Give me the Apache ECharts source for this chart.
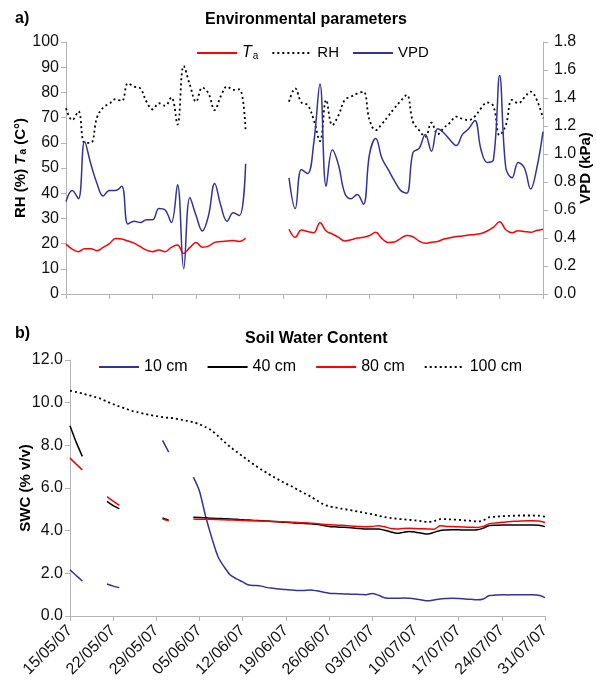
<!DOCTYPE html>
<html>
<head>
<meta charset="utf-8">
<script src="https://cdn.jsdelivr.net/npm/echarts@6/dist/echarts.min.js"></script>
<style>
html,body{margin:0;padding:0;background:#fff;}
#chart{width:596px;height:685px;}
</style>
</head>
<body>
<div id="chart"></div>
<script>
// x positions are days since 15/05/07
var tickLabels = ['15/05/07','22/05/07','29/05/07','05/06/07','12/06/07','19/06/07','26/06/07','03/07/07','10/07/07','17/07/07','24/07/07','31/07/07'];

// Panel a) daily values, days 0..77 (null = missing)
var taValues = [19.8,17.8,16.8,18,18,17.2,18.5,20,22,21.8,21,20.2,18.8,17.4,16.8,17.5,16.8,18.5,19.4,16.1,18.5,20.4,18.6,19,20.5,20.8,21,21.2,20.8,22.1,
  null,null,null,null,null,null,
  25.7,22.5,25.4,24.8,24.3,28.3,25,23.8,22.5,21,21.5,22.2,22.5,23.2,24.5,22,20.4,20.6,22,23.2,22.7,21,20.1,20.5,20.8,21.8,22.3,22.8,23,23.4,23.6,24,25,26.5,28.7,25.5,24.3,25.1,24.8,24.5,25.2,25.7];
var rhValues = [73.7,69,72.5,60,60,70,74,75.5,77.3,76.6,83.6,82.3,81.6,76.3,73.3,75.7,74.7,78,67.3,90.5,83,76.3,81.9,79.6,73,78.5,82.3,81,81.2,64.4,
  null,null,null,null,null,null,
  76.3,81.6,76,75,69,60.7,77,67,71,77,78.3,79.5,80.3,69,65,67.5,70.5,73.7,76.5,79,68.4,65,62.4,68,63.4,66,68,70.4,69.5,69,70.5,73.7,76,74.5,63,67,77,75.7,78,80.3,77,69.7];
var vpdValues = [0.66,0.74,0.68,1.09,0.93,0.79,0.70,0.74,0.74,0.77,0.50,0.52,0.51,0.53,0.53,0.61,0.60,0.51,0.78,0.18,0.69,0.56,0.45,0.56,0.79,0.63,0.52,0.58,0.56,0.93,
  null,null,null,null,null,null,
  0.83,0.61,0.89,0.86,1.08,1.50,0.77,1.03,0.92,0.72,0.68,0.71,0.64,1.00,1.11,0.97,0.89,0.81,0.74,0.72,1.01,1.04,1.14,1.02,1.18,1.15,1.10,1.06,1.14,1.18,1.24,1.03,0.94,0.96,1.56,0.90,0.83,0.94,0.90,0.75,0.90,1.16];

// Panel b) soil water content, days 0..77
var swc10 = [2.16,1.9,1.64,null,null,null,1.5,1.4,1.33,null,null,null,null,null,null,8.23,7.68,null,null,null,
  6.51,5.84,4.65,3.65,2.78,2.3,1.92,1.74,1.6,1.45,1.43,1.4,1.33,1.3,1.26,1.24,1.22,1.19,1.2,1.22,1.18,1.12,1.07,1.05,1.04,1.03,1.02,1.01,1.0,1.06,0.97,0.86,0.83,0.83,0.84,0.83,0.8,0.75,0.71,0.75,0.8,0.82,0.83,0.82,0.8,0.78,0.76,0.8,0.96,0.98,1.0,0.99,1.0,1.0,1.0,1.0,0.97,0.86];
var swc40 = [8.92,8.15,7.48,null,null,null,5.37,5.17,5.02,null,null,null,null,null,null,4.59,4.49,null,null,null,
  4.63,4.62,4.6,4.58,4.57,4.56,4.55,4.53,4.51,4.5,4.48,4.47,4.45,4.43,4.41,4.39,4.37,4.35,4.34,4.32,4.3,4.25,4.2,4.18,4.16,4.15,4.12,4.1,4.08,4.08,4.08,4.02,3.94,3.88,3.92,3.96,3.93,3.88,3.84,3.92,4.01,4.03,4.04,4.04,4.03,4.03,4.04,4.12,4.24,4.25,4.26,4.27,4.27,4.27,4.27,4.27,4.25,4.19];
var swc80 = [7.4,7.12,6.85,null,null,null,5.6,5.38,5.18,null,null,null,null,null,null,4.55,4.46,null,null,null,
  4.55,4.54,4.54,4.53,4.52,4.51,4.5,4.49,4.48,4.47,4.46,4.45,4.44,4.43,4.42,4.41,4.4,4.38,4.37,4.35,4.33,4.3,4.28,4.26,4.25,4.23,4.21,4.19,4.18,4.2,4.23,4.18,4.1,4.08,4.1,4.11,4.1,4.09,4.08,4.07,4.23,4.2,4.19,4.18,4.17,4.16,4.15,4.2,4.33,4.36,4.39,4.42,4.44,4.45,4.46,4.46,4.45,4.38];
var swc100 = [10.56,10.5,10.43,10.35,10.27,10.18,10.05,9.93,9.82,9.72,9.62,9.55,9.48,9.42,9.37,9.32,9.29,9.26,9.2,9.15,9.08,8.98,8.85,8.69,8.43,8.17,7.92,7.7,7.48,7.27,7.06,6.87,6.69,6.52,6.36,6.2,6.07,5.9,5.75,5.6,5.42,5.25,5.14,5.09,5.03,4.99,4.93,4.88,4.82,4.77,4.7,4.64,4.59,4.56,4.53,4.51,4.48,4.45,4.41,4.45,4.54,4.54,4.52,4.51,4.48,4.46,4.43,4.48,4.63,4.65,4.68,4.69,4.7,4.71,4.71,4.71,4.7,4.66];

function pairs(arr){ return arr.map(function(v,i){ return [i, v]; }); }

var FONT = '"Liberation Sans", Arial, sans-serif';
var AXC = '#b4b4b4';
var BLUE = '#333399', RED = '#ff0000', BLACK = '#000000';
var DOT = [2,3];

function xAxisCfg(grid, showLabels){
  return {
    type:'value', gridIndex:grid, min:0, max:77, interval:7,
    axisLine:{show:true, onZero:false, lineStyle:{color:AXC, width:1}},
    axisTick:{show:true, length:5, lineStyle:{color:AXC}},
    splitLine:{show:false},
    axisLabel:{show:showLabels, rotate:45, margin:12, fontSize:16, fontFamily:FONT, color:'#111',
      formatter:function(v){ return tickLabels[Math.round(v/7)]; }}
  };
}

var richName = {
  i:{fontStyle:'italic', fontWeight:'bold', fontSize:15, fontFamily:FONT, color:'#000'},
  s:{fontWeight:'bold', fontSize:10, fontFamily:FONT, color:'#000', verticalAlign:'bottom', padding:[0,0,0,1]},
  n:{fontWeight:'bold', fontSize:15, fontFamily:FONT, color:'#000'}
};

function lineSeries(name, xi, yi, arr, color, dotted, smooth){
  return {name:name, type:'line', xAxisIndex:xi, yAxisIndex:yi, data:pairs(arr), smooth:smooth,
    showSymbol:false, symbol:'none', connectNulls:false,
    lineStyle:{color:color, width:dotted ? 1.8 : 1.5, type: dotted ? DOT : 'solid'},
    itemStyle:{color:color}};
}

var chart = echarts.init(document.getElementById('chart'), null, {renderer:'canvas'});
chart.setOption({
  animation:false,
  backgroundColor:'#fff',
  title:[
    {text:'a)', left:10, top:6, textStyle:{fontSize:16, fontWeight:'bold', fontFamily:FONT, color:'#000'}},
    {text:'Environmental parameters', left:200, top:7, textStyle:{fontSize:16, fontWeight:'bold', fontFamily:FONT, color:'#000'}},
    {text:'b)', left:10, top:321, textStyle:{fontSize:16, fontWeight:'bold', fontFamily:FONT, color:'#000'}},
    {text:'Soil Water Content', left:240, top:326, textStyle:{fontSize:16, fontWeight:'bold', fontFamily:FONT, color:'#000'}}
  ],
  legend:[
    {data:['Ta','RH','VPD'], left:191, top:40, itemWidth:40, itemHeight:14, itemGap:13,
      itemStyle:{opacity:0},
      textStyle:{fontSize:15, fontFamily:FONT, color:'#000',
        rich:{i:{fontStyle:'italic', fontSize:16, fontFamily:FONT, color:'#000'}, s:{fontSize:10, fontFamily:FONT, color:'#000', verticalAlign:'bottom', padding:[6,0,0,1]}}},
      formatter:function(n){ return n==='Ta' ? '{i|T}{s|a}' : n; }},
    {data:['10 cm','40 cm','80 cm','100 cm'], left:93, top:354, itemWidth:40, itemHeight:14, itemGap:19,
      itemStyle:{opacity:0},
      textStyle:{fontSize:16, fontFamily:FONT, color:'#000'}}
  ],
  grid:[
    {left:66, right:53, top:42, bottom:391, containLabel:false, outerBoundsMode:'none'},
    {left:70, right:51, top:360, bottom:69, containLabel:false, outerBoundsMode:'none'}
  ],
  xAxis:[ xAxisCfg(0,false), xAxisCfg(1,true) ],
  yAxis:[
    {type:'value', gridIndex:0, min:0, max:100, interval:10, position:'left',
      name:'{n|RH (%) }{i|T}{s|a}{n| (C°)}', nameLocation:'middle', nameRotate:90, nameGap:38, nameMoveOverlap:false,
      nameTextStyle:{rich:richName},
      axisLine:{show:true, lineStyle:{color:AXC}}, axisTick:{show:true, length:5, lineStyle:{color:AXC}},
      splitLine:{show:false},
      axisLabel:{fontSize:16, fontFamily:FONT, color:'#111', margin:7}},
    {type:'value', gridIndex:0, min:0, max:1.8, interval:0.2, position:'right',
      name:'VPD (kPa)', nameLocation:'middle', nameRotate:90, nameGap:35, nameMoveOverlap:false,
      nameTextStyle:{fontSize:15, fontWeight:'bold', fontFamily:FONT, color:'#000'},
      axisLine:{show:true, lineStyle:{color:AXC}}, axisTick:{show:true, length:5, lineStyle:{color:AXC}},
      splitLine:{show:false},
      axisLabel:{fontSize:16, fontFamily:FONT, color:'#111', margin:11, formatter:function(v){return v.toFixed(1);}}},
    {type:'value', gridIndex:1, min:0, max:12, interval:2, position:'left',
      name:'SWC (% v/v)', nameLocation:'middle', nameRotate:90, nameGap:37, nameMoveOverlap:false,
      nameTextStyle:{fontSize:15, fontWeight:'bold', fontFamily:FONT, color:'#000'},
      axisLine:{show:true, lineStyle:{color:AXC}}, axisTick:{show:true, length:5, lineStyle:{color:AXC}},
      splitLine:{show:false},
      axisLabel:{fontSize:16, fontFamily:FONT, color:'#111', margin:7, formatter:function(v){return v.toFixed(1);}}}
  ],
  series:[
    lineSeries('Ta', 0, 0, taValues, RED, false, 0.4),
    lineSeries('RH', 0, 0, rhValues, BLACK, true, 0.4),
    lineSeries('VPD', 0, 1, vpdValues, BLUE, false, 0.4),
    lineSeries('10 cm', 1, 2, swc10, BLUE, false, 0.3),
    lineSeries('40 cm', 1, 2, swc40, BLACK, false, 0.3),
    lineSeries('80 cm', 1, 2, swc80, RED, false, 0.3),
    lineSeries('100 cm', 1, 2, swc100, BLACK, true, 0.3)
  ]
});
</script>
</body>
</html>
